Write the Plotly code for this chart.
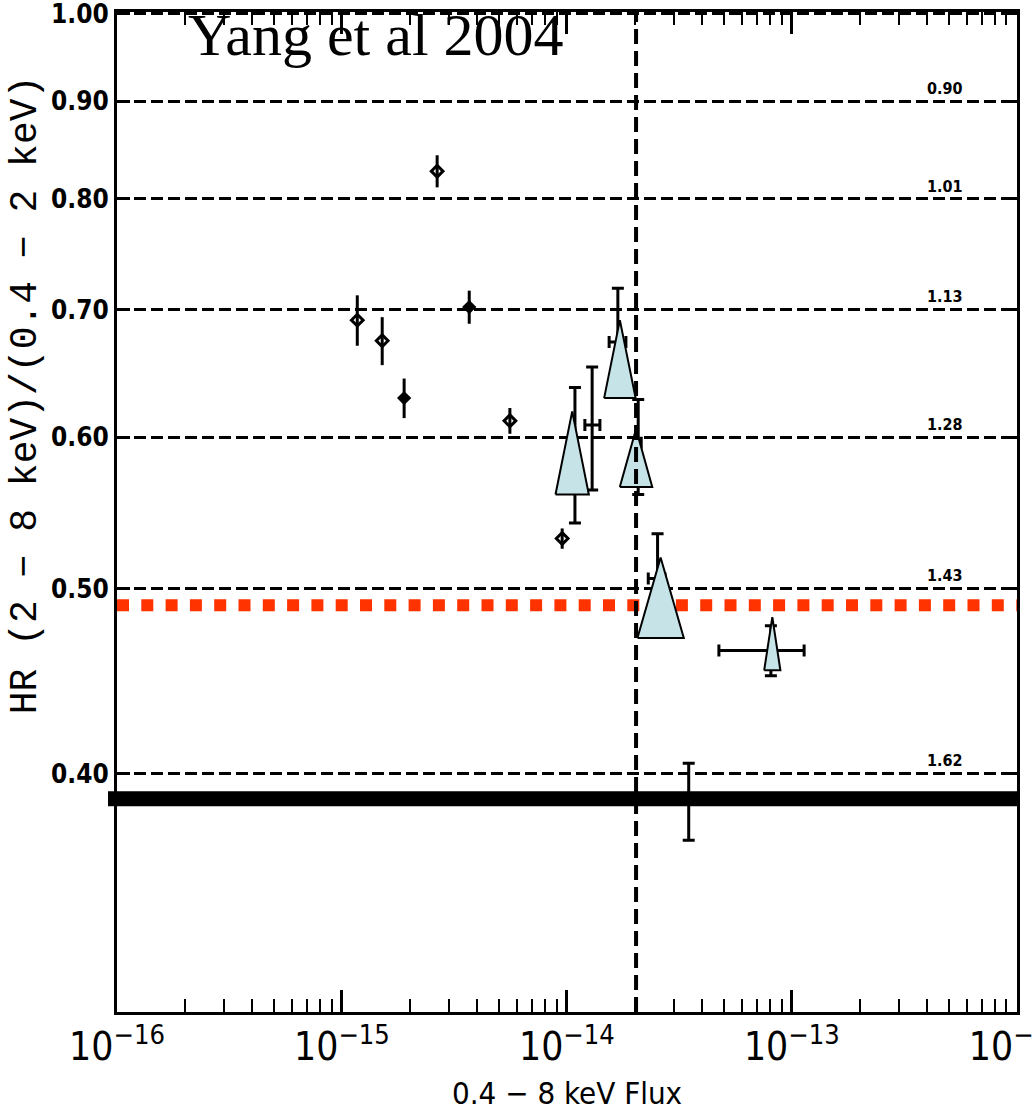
import numpy as np
import plotly.graph_objects as go

# ---------------- data ----------------
# individual sources (small diamonds with vertical error bars)
open_x = [2.65e-15, 1.17e-15, 1.51e-15, 5.58e-15, 9.53e-15]
open_y = [0.827, 0.691, 0.674, 0.612, 0.531]
open_err = [0.016, 0.021, 0.0195, 0.0095, 0.0065]

filled_x = [1.89e-15, 3.68e-15]
filled_y = [0.629, 0.702]
filled_err = [0.015, 0.014]

# stacked points shown as error-bar crosses
cross_x = [1.086e-14, 1.295e-14, 1.685e-14, 2.075e-14, 2.53e-14, 8.07e-14, 3.48e-14]
cross_x_lo = [1.086e-14, 1.202e-14, 1.541e-14, 2.01e-14, 2.30e-14, 4.74e-14, 3.07e-14]
cross_x_hi = [1.086e-14, 1.402e-14, 1.83e-14, 2.14e-14, 2.73e-14, 1.134e-13, 3.85e-14]
cross_y = [0.587, 0.609, 0.673, 0.596, 0.506, 0.464, 0.388]
cross_y_lo = [0.541, 0.563, 0.631, 0.560, 0.480, 0.450, 0.369]
cross_y_hi = [0.637, 0.653, 0.718, 0.628, 0.534, 0.478, 0.405]

# triangles (Yang et al 2004 bins): flux range of base, HR of base and apex
tri_x = [1.056e-14, 1.72e-14, 2.03e-14, 2.61e-14, 8.19e-14]
tri_flux_lo = [0.890e-14, 1.464e-14, 1.719e-14, 2.059e-14, 7.535e-14]
tri_flux_hi = [1.252e-14, 2.021e-14, 2.396e-14, 3.309e-14, 8.895e-14]
tri_top = [0.619, 0.691, 0.606, 0.519, 0.483]
tri_base = [0.560, 0.629, 0.565, 0.471, 0.453]

# reference levels
hr_ticks = [0.40, 0.50, 0.60, 0.70, 0.80, 0.90, 1.00]
hr_tick_text = ["0.40", "0.50", "0.60", "0.70", "0.80", "0.90", "1.00"]
gamma_levels = [0.90, 0.80, 0.70, 0.60, 0.50, 0.40]
gamma_text = ["0.90", "1.01", "1.13", "1.28", "1.43", "1.62"]
red_hr = 0.49
band_hr = 0.388
flux_cut = 2.03e-14
x_range = [1e-16, 1e-12]

NARROW = "DejaVu Sans Condensed, Liberation Sans Narrow, sans-serif"

fig = go.Figure()

# red dotted level
fig.add_trace(go.Scatter(
    x=x_range, y=[red_hr, red_hr], mode="lines",
    line=dict(color="#ff3300", width=12, dash="12px,12.3px"),
    hoverinfo="skip", showlegend=False))

# error-bar crosses
fig.add_trace(go.Scatter(
    x=cross_x, y=cross_y, mode="markers",
    marker=dict(size=1, color="black"),
    error_y=dict(type="data", symmetric=False,
                 array=[h - c for h, c in zip(cross_y_hi, cross_y)],
                 arrayminus=[c - l for l, c in zip(cross_y_lo, cross_y)],
                 color="black", thickness=3, width=6),
    error_x=dict(type="data", symmetric=False,
                 array=[h - c for h, c in zip(cross_x_hi, cross_x)],
                 arrayminus=[c - l for l, c in zip(cross_x_lo, cross_x)],
                 color="black", thickness=3, width=6),
    showlegend=False))

# triangles
for xc, lo, hi, top, base in zip(tri_x, tri_flux_lo, tri_flux_hi, tri_top, tri_base):
    fig.add_trace(go.Scatter(
        x=[lo, hi, xc, lo], y=[base, base, top, base],
        mode="lines", fill="toself", fillcolor="#c6e4e8",
        line=dict(color="black", width=2),
        hoverinfo="skip", showlegend=False))

# individual sources
fig.add_trace(go.Scatter(
    x=open_x, y=open_y, mode="markers",
    marker=dict(symbol="diamond-open", size=9, color="black", line=dict(width=3, color="black")),
    error_y=dict(type="data", array=open_err, color="black", thickness=3, width=0),
    showlegend=False))
fig.add_trace(go.Scatter(
    x=filled_x, y=filled_y, mode="markers",
    marker=dict(symbol="diamond", size=11, color="black"),
    error_y=dict(type="data", array=filled_err, color="black", thickness=3, width=0),
    showlegend=False))

# vertical flux cut and thick band
fig.add_shape(type="line", xref="x", yref="paper", x0=flux_cut, x1=flux_cut, y0=0, y1=1,
              line=dict(color="black", width=4, dash="15px,7px"), layer="above")
fig.add_shape(type="line", xref="paper", yref="y", x0=-0.01, x1=1.003, y0=band_hr, y1=band_hr,
              line=dict(color="black", width=15), layer="above")

annotations = []
for lv, tx in zip(gamma_levels, gamma_text):
    annotations.append(dict(
        xref="paper", yref="y", x=0.92, y=np.log10(lv), text=tx, showarrow=False,
        xanchor="center", yanchor="bottom", yshift=1,
        font=dict(family=NARROW, size=16, color="black", weight="bold")))

annotations.append(dict(
    xref="paper", yref="paper", x=0.077, y=0.977, text="Yang et al 2004", showarrow=False,
    xanchor="left", yanchor="middle",
    font=dict(family="Liberation Serif, Times New Roman, serif", size=60, color="black")))

annotations.append(dict(
    xref="paper", yref="paper", x=0.5, y=-0.081, text="0.4 \u2212 8 keV Flux", showarrow=False,
    xanchor="center", yanchor="middle",
    font=dict(family=NARROW, size=31, color="black")))

annotations.append(dict(
    xref="paper", yref="paper", x=-0.102, y=0.617, text="HR (2 \u2212 8 keV)/(0.4 \u2212 2 keV)",
    showarrow=False, textangle=-90, xanchor="center", yanchor="middle",
    font=dict(family="Liberation Mono, DejaVu Sans Mono, monospace", size=38, color="black")))

fig.update_layout(
    width=1032, height=1113, autosize=False,
    margin=dict(l=117, r=15, t=12, b=101, autoexpand=False),
    paper_bgcolor="white", plot_bgcolor="white",
    annotations=annotations,
    xaxis=dict(type="log", range=[-16, -11.999], dtick=1, exponentformat="power",
               showline=True, linewidth=3, linecolor="black", mirror="allticks",
               ticks="inside", ticklen=22, tickwidth=3, tickcolor="black",
               tickfont=dict(family=NARROW, size=31, color="black"),
               ticklabeloverflow="allow", automargin=False,
               showgrid=False, zeroline=False,
               minor=dict(ticks="inside", ticklen=13, tickwidth=2, tickcolor="black",
                          dtick="D1", showgrid=False)),
    yaxis=dict(type="log", range=[np.log10(0.3), np.log10(1.002)], tickvals=hr_ticks,
               ticktext=hr_tick_text,
               showline=True, linewidth=3, linecolor="black", mirror="allticks",
               ticks="inside", ticklen=13, tickwidth=3, tickcolor="black",
               tickfont=dict(family=NARROW, size=26, color="black", weight="bold"),
               ticklabeloverflow="allow", automargin=False,
               showgrid=True, gridcolor="black", gridwidth=3, griddash="12px,5px",
               zeroline=False),
)

fig.write_html("out.html")
